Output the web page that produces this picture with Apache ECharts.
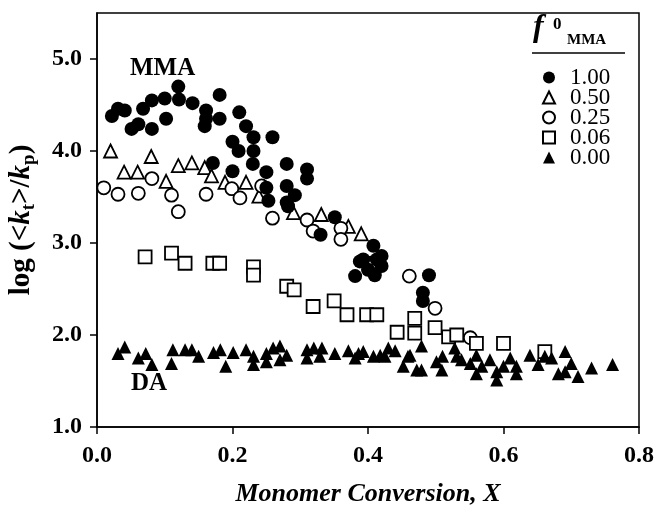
<!DOCTYPE html>
<html>
<head>
<meta charset="utf-8">
<script src="https://cdn.jsdelivr.net/npm/echarts@6/dist/echarts.min.js"></script>
<style>
  html, body { margin: 0; padding: 0; background: #fff; }
  #chart { width: 657px; height: 508px; }
</style>
</head>
<body>
<div id="chart"></div>
<script>
// log(<kt>/kp) versus monomer conversion for each initial MMA fraction
const seriesNames = ['1.00', '0.50', '0.25', '0.06', '0.00'];

const mma100 = [
  [0.022,4.38],[0.031,4.46],[0.041,4.44],[0.051,4.24],[0.061,4.29],[0.068,4.46],[0.081,4.55],[0.081,4.24],
  [0.100,4.57],[0.102,4.35],[0.120,4.70],[0.121,4.56],[0.141,4.52],[0.161,4.44],[0.161,4.35],[0.159,4.27],
  [0.181,4.61],[0.181,4.35],[0.171,3.87],[0.200,4.10],[0.200,3.78],[0.209,4.00],[0.210,4.42],[0.220,4.27],
  [0.231,4.15],[0.231,4.00],[0.230,3.86],[0.250,3.77],[0.250,3.60],[0.253,3.46],[0.259,4.15],[0.280,3.86],
  [0.280,3.62],[0.280,3.44],[0.292,3.52],[0.282,3.40],[0.310,3.80],[0.310,3.70],[0.330,3.09],[0.351,3.28],
  [0.381,2.64],[0.388,2.80],[0.393,2.82],[0.400,2.71],[0.408,2.97],[0.410,2.65],[0.413,2.82],[0.420,2.86],
  [0.420,2.75],[0.481,2.46],[0.481,2.37],[0.490,2.65]
];
const mma050 = [
  [0.020,4.00],[0.040,3.77],[0.060,3.77],[0.080,3.94],[0.102,3.67],[0.120,3.84],[0.140,3.87],[0.159,3.82],
  [0.169,3.73],[0.189,3.66],[0.220,3.66],[0.239,3.51],[0.290,3.33],[0.331,3.31],[0.371,3.18],[0.390,3.10]
];
const mma025 = [
  [0.010,3.60],[0.031,3.53],[0.061,3.54],[0.081,3.70],[0.110,3.52],[0.120,3.34],[0.161,3.53],[0.199,3.59],
  [0.211,3.49],[0.243,3.62],[0.259,3.27],[0.310,3.25],[0.319,3.13],[0.360,3.16],[0.360,3.04],[0.404,2.78],
  [0.461,2.64],[0.499,2.29],[0.551,1.97]
];
const mma006 = [
  [0.071,2.85],[0.110,2.89],[0.130,2.78],[0.171,2.78],[0.181,2.78],[0.231,2.74],[0.231,2.65],[0.280,2.53],
  [0.291,2.49],[0.319,2.31],[0.350,2.37],[0.369,2.22],[0.398,2.22],[0.413,2.22],[0.443,2.03],[0.469,2.18],
  [0.469,2.02],[0.499,2.08],[0.519,1.98],[0.531,2.00],[0.560,1.91],[0.600,1.91],[0.661,1.82]
];
const mma000 = [
  [0.031,1.80],[0.041,1.87],[0.061,1.75],[0.072,1.80],[0.081,1.68],[0.110,1.69],[0.112,1.84],[0.130,1.84],
  [0.140,1.84],[0.150,1.77],[0.172,1.81],[0.182,1.84],[0.190,1.66],[0.201,1.81],[0.220,1.84],[0.231,1.77],
  [0.231,1.68],[0.250,1.80],[0.250,1.71],[0.260,1.86],[0.270,1.88],[0.270,1.73],[0.280,1.78],[0.310,1.84],
  [0.310,1.75],[0.320,1.86],[0.329,1.77],[0.332,1.86],[0.351,1.80],[0.371,1.83],[0.381,1.75],[0.386,1.80],
  [0.393,1.82],[0.408,1.77],[0.418,1.78],[0.425,1.77],[0.430,1.86],[0.440,1.83],[0.452,1.66],[0.459,1.77],
  [0.462,1.78],[0.472,1.62],[0.479,1.88],[0.479,1.62],[0.501,1.71],[0.509,1.62],[0.510,1.77],[0.528,1.86],
  [0.531,1.77],[0.538,1.73],[0.551,1.69],[0.560,1.78],[0.560,1.58],[0.568,1.66],[0.580,1.73],[0.590,1.60],
  [0.590,1.51],[0.600,1.66],[0.610,1.75],[0.619,1.66],[0.619,1.58],[0.639,1.78],[0.651,1.68],[0.661,1.77],
  [0.671,1.75],[0.681,1.58],[0.691,1.82],[0.691,1.60],[0.700,1.69],[0.710,1.55],[0.730,1.64],[0.761,1.68]
];

const xTicks = [0.0, 0.2, 0.4, 0.6, 0.8];
const yTicks = [1.0, 2.0, 3.0, 4.0, 5.0];

const FONT = '"Liberation Serif", "DejaVu Serif", serif';

const filled = { color: '#000', borderColor: '#000', borderWidth: 0, opacity: 1 };
const hollow = { color: '#fff', borderColor: '#000', borderWidth: 1.8, opacity: 1 };

function scatter(name, data, symbol, style, size) {
  return {
    name, type: 'scatter', data, symbol, symbolSize: size,
    itemStyle: style, emphasis: { disabled: true }, silent: true
  };
}

const chart = echarts.init(document.getElementById('chart'), null, { renderer: 'canvas' });

chart.setOption({
  animation: false,
  backgroundColor: '#fff',
  textStyle: { fontFamily: FONT },
  grid: {
    left: 97, right: 18, top: 13, bottom: 81,
    containLabel: false, outerBoundsMode: 'none',
    show: true, borderColor: '#000', borderWidth: 1.5, backgroundColor: 'transparent'
  },
  xAxis: {
    type: 'value', min: 0, max: 0.8, interval: 0.2,
    name: 'Monomer Conversion, X', nameLocation: 'middle', nameGap: 54,
    nameTextStyle: { fontFamily: FONT, fontSize: 26, fontStyle: 'italic', fontWeight: 'bold', color: '#000' },
    axisLine: { show: true, onZero: false, lineStyle: { color: '#000', width: 1.5 } },
    axisTick: { show: true, inside: false, length: 7, lineStyle: { color: '#000', width: 1.5 }, customValues: xTicks },
    axisLabel: {
      margin: 17, color: '#000', fontFamily: FONT, fontSize: 24, fontWeight: 'bold',
      customValues: xTicks, formatter: v => v.toFixed(1)
    },
    splitLine: { show: false }
  },
  yAxis: {
    type: 'value', min: 1, max: 5.5, interval: 1,
    name: '{b|log (<}{bi|k}{sub|t}{b|>/}{bi|k}{sub|p}{b|)}',
    nameLocation: 'middle', nameGap: 58, nameRotate: 90,
    nameTextStyle: {
      color: '#000',
      rich: {
        b: { fontFamily: FONT, fontSize: 29, fontWeight: 'bold', lineHeight: 34, color: '#000' },
        bi: { fontFamily: FONT, fontSize: 29, fontWeight: 'bold', fontStyle: 'italic', lineHeight: 34, color: '#000' },
        sub: { fontFamily: FONT, fontSize: 19, fontWeight: 'bold', lineHeight: 18, verticalAlign: 'bottom', color: '#000' }
      }
    },
    axisLine: { show: true, onZero: false, lineStyle: { color: '#000', width: 1.5 } },
    axisTick: { show: true, inside: false, length: 7, lineStyle: { color: '#000', width: 1.5 }, customValues: yTicks },
    axisLabel: {
      margin: 15, color: '#000', fontFamily: FONT, fontSize: 24, fontWeight: 'bold',
      customValues: yTicks, formatter: v => v.toFixed(1)
    },
    splitLine: { show: false }
  },
  legend: {
    orient: 'vertical', left: 537, top: 61,
    itemWidth: 12, itemHeight: 12, itemGap: -3,
    data: seriesNames,
    textStyle: { fontFamily: FONT, fontSize: 23, color: '#000', lineHeight: 20, padding: [0, 0, 0, 10] },
    selectedMode: false
  },
  graphic: [
    {
      type: 'text', left: 533, top: 12, silent: true,
      style: { text: 'f', fontFamily: FONT, fontSize: 32, fontStyle: 'italic', fontWeight: 'bold', fill: '#000' }
    },
    {
      type: 'text', left: 553, top: 16, silent: true,
      style: { text: '0', fontFamily: FONT, fontSize: 17, fontWeight: 'bold', fill: '#000' }
    },
    {
      type: 'text', left: 567, top: 33, silent: true,
      style: { text: 'MMA', fontFamily: FONT, fontSize: 15, fontWeight: 'bold', fill: '#000' }
    },
    {
      type: 'line', silent: true,
      shape: { x1: 532, y1: 53, x2: 625, y2: 53 },
      style: { stroke: '#000', lineWidth: 1.5 }
    },
    {
      type: 'text', left: 130, top: 56, silent: true,
      style: { text: 'MMA', fontFamily: FONT, fontSize: 25, fontWeight: 'bold', fill: '#000' }
    },
    {
      type: 'text', left: 131, top: 371, silent: true,
      style: { text: 'DA', fontFamily: FONT, fontSize: 25, fontWeight: 'bold', fill: '#000' }
    }
  ],
  series: [
    scatter(seriesNames[1], mma050, 'triangle', hollow, 13),
    scatter(seriesNames[2], mma025, 'circle', hollow, 13),
    scatter(seriesNames[3], mma006, 'rect', hollow, 13),
    scatter(seriesNames[4], mma000, 'triangle', filled, 13),
    scatter(seriesNames[0], mma100, 'circle', filled, 14)
  ]
});
</script>
</body>
</html>
